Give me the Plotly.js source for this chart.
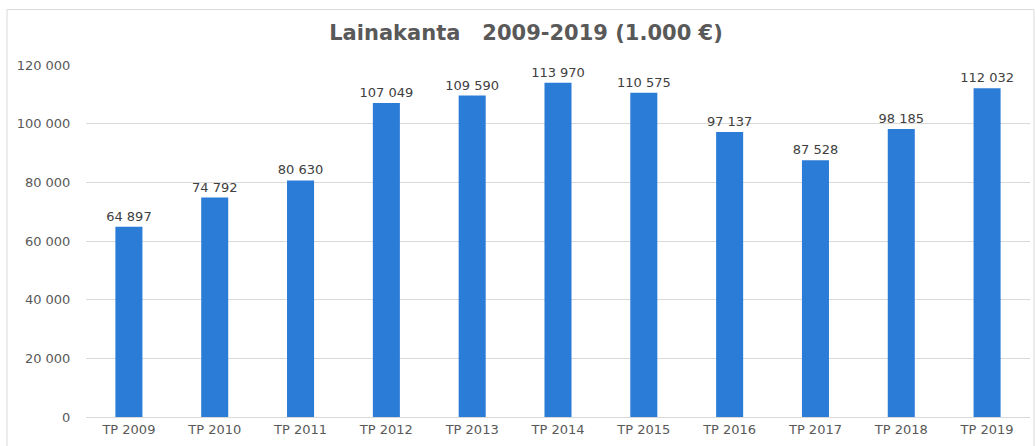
<!DOCTYPE html>
<html>
<head>
<meta charset="utf-8">
<script src="https://cdn.plot.ly/plotly-3.0.1.min.js"></script>
<style>
  html, body { margin: 0; padding: 0; background: #ffffff; }
  #chart { width: 1035px; height: 446px; }
</style>
</head>
<body>
<div id="chart"></div>
<script>
const categories = ["TP 2009", "TP 2010", "TP 2011", "TP 2012", "TP 2013", "TP 2014", "TP 2015", "TP 2016", "TP 2017", "TP 2018", "TP 2019"];
const lainakanta = [64897, 74792, 80630, 107049, 109590, 113970, 110575, 97137, 87528, 98185, 112032];
const yTicks = [0, 20000, 40000, 60000, 80000, 100000, 120000];

const trace = {
  type: 'bar',
  x: categories,
  y: lainakanta,
  marker: { color: '#2B7CD7' },
  texttemplate: '%{y:,d}',
  textposition: 'outside',
  constraintext: 'none',
  cliponaxis: false,
  textfont: { family: 'DejaVu Sans, Verdana, sans-serif', size: 13, color: '#404040' },
  hoverinfo: 'none'
};

const layout = {
  width: 1035,
  height: 446,
  margin: { l: 86, r: 5, t: 65, b: 29 },
  paper_bgcolor: '#ffffff',
  plot_bgcolor: '#ffffff',
  separators: ', ',
  bargap: 0.685,
  showlegend: false,
  font: { family: 'DejaVu Sans, Verdana, sans-serif', size: 13, color: '#595959' },
  title: {
    text: '<b>Lainakanta\u00a0\u00a0\u00a02009-2019 (1.000 €)</b>',
    font: { family: 'DejaVu Sans, Verdana, sans-serif', size: 21, color: '#595959' },
    x: 526 / 1035,
    xref: 'container',
    xanchor: 'center',
    y: 1 - 33 / 446,
    yref: 'container',
    yanchor: 'middle'
  },
  xaxis: {
    type: 'category',
    showgrid: false,
    showline: true,
    linecolor: '#d9d9d9',
    linewidth: 1,
    ticks: '',
    tickfont: { size: 13, color: '#595959' },
    zeroline: false
  },
  yaxis: {
    range: [0, 120000],
    tickvals: yTicks,
    tickformat: ',d',
    showgrid: true,
    gridcolor: '#d9d9d9',
    gridwidth: 1,
    zeroline: false,
    showline: false,
    ticks: 'outside',
    ticklen: 12,
    tickcolor: 'rgba(0,0,0,0)',
    tickfont: { size: 13, color: '#595959' }
  },
  shapes: [{
    type: 'rect',
    xref: 'paper', yref: 'paper',
    x0: (7 - 86) / 944, x1: (1034 - 86) / 944,
    y0: (417 - 452) / 352, y1: (417 - 9.5) / 352,
    line: { color: '#d9d9d9', width: 1 },
    fillcolor: 'rgba(0,0,0,0)',
    layer: 'below'
  }]
};

Plotly.newPlot('chart', [trace], layout, { staticPlot: true, displayModeBar: false });
</script>
</body>
</html>
